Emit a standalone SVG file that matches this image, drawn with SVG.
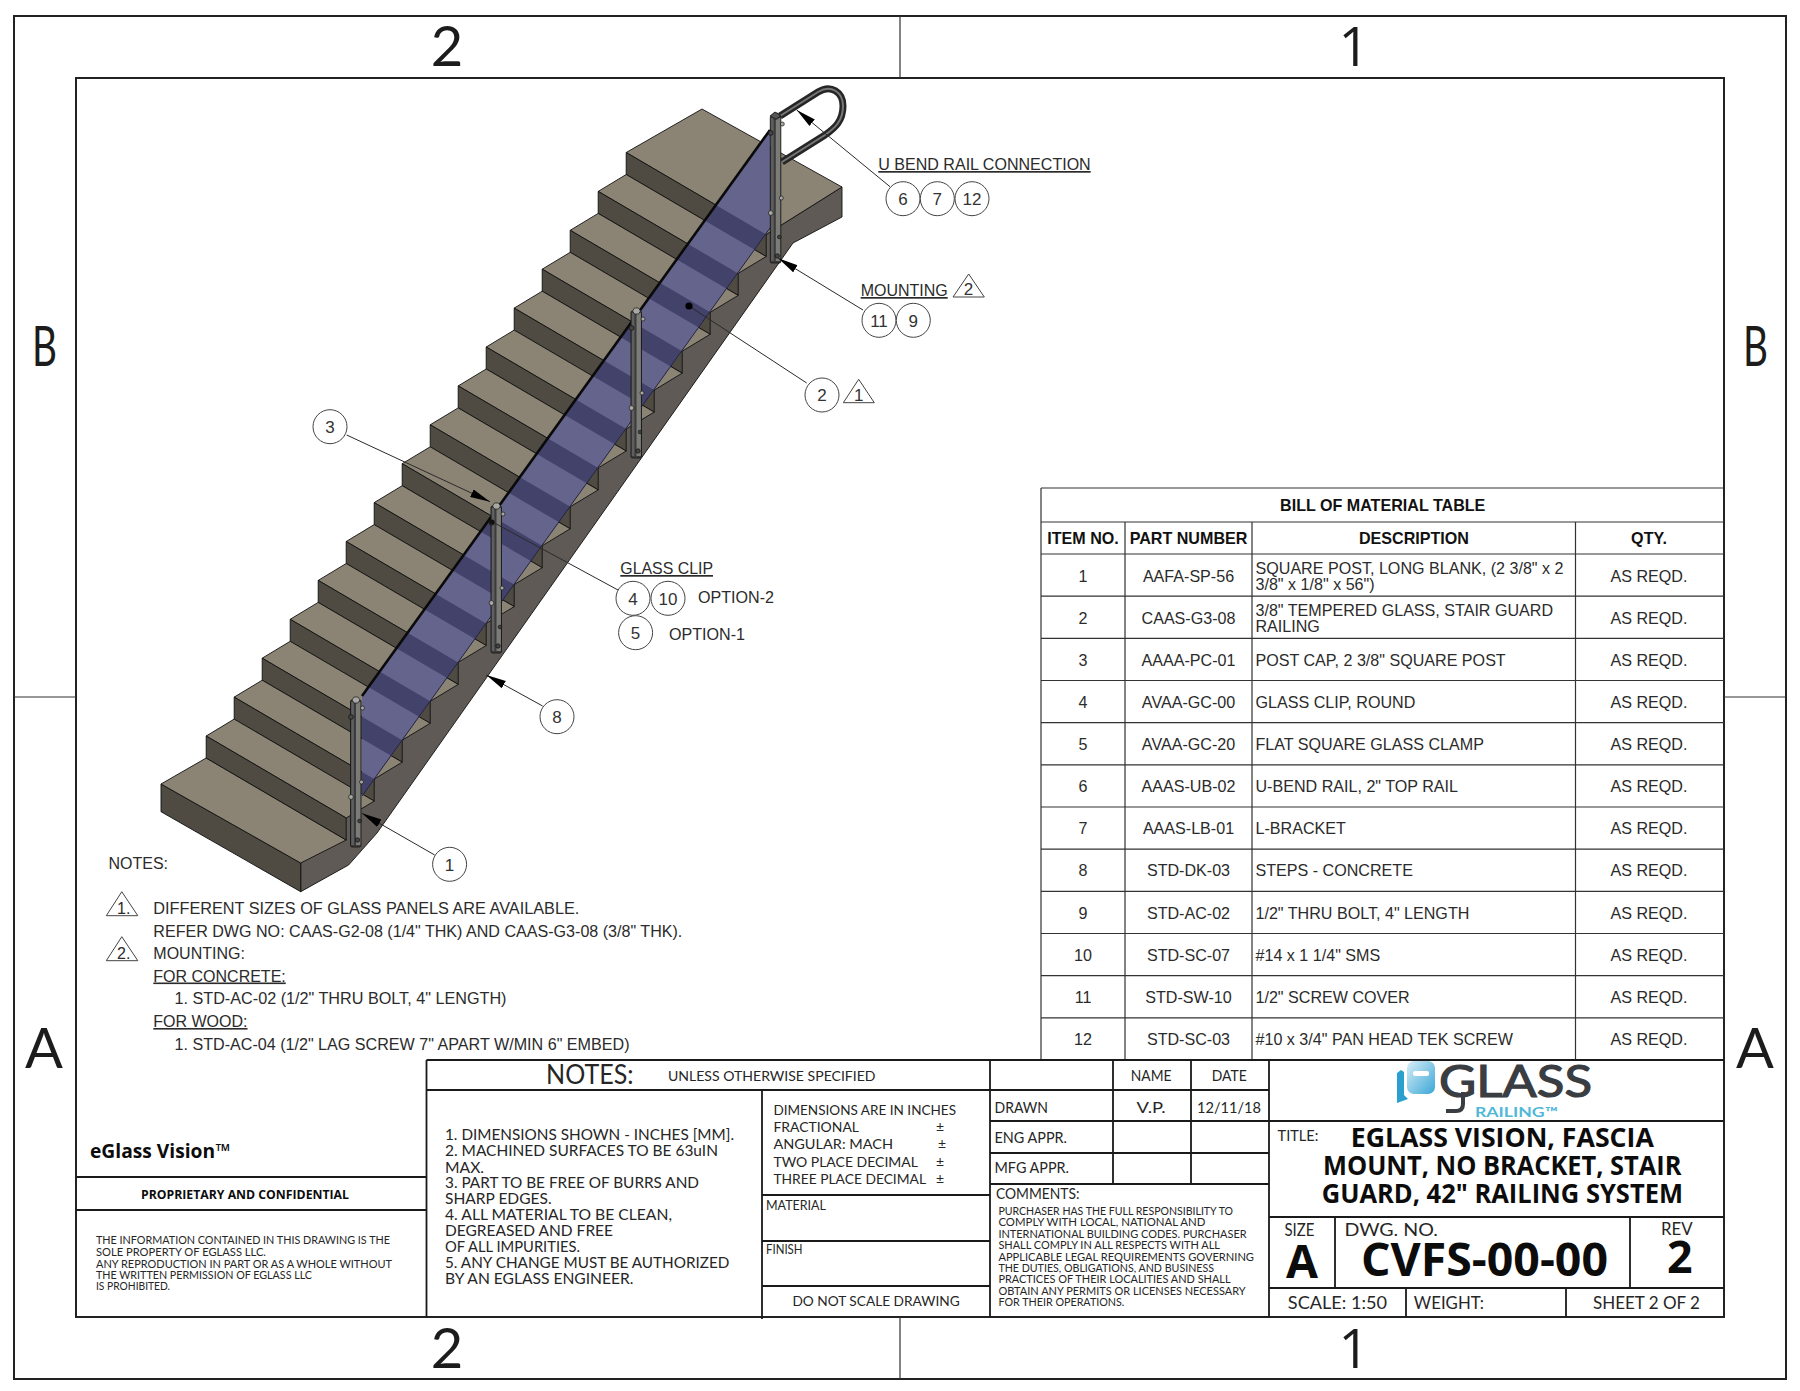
<svg xmlns="http://www.w3.org/2000/svg" width="1800" height="1391" viewBox="0 0 1800 1391">
<style>
.s{font-family:"Liberation Sans",Arial,sans-serif;font-size:16.1px;fill:#2b2b2b}
.d{font-size:16px}
.b{font-weight:700;fill:#111}
.m{text-anchor:middle}
.c{font-family:Lato,"Liberation Sans",sans-serif;fill:#262626}
.h{font-family:"Open Sans","Liberation Sans",sans-serif;font-weight:700;fill:#0c0c0c}
.f{font-family:Lato,"Liberation Sans",sans-serif;font-size:56px;fill:#1c1c1c;text-anchor:middle}
.f1{font-family:"Open Sans","Liberation Sans",sans-serif;font-size:54px;fill:#1c1c1c;text-anchor:middle}
.u{text-decoration:underline}
.n{font-family:"Liberation Sans",Arial,sans-serif;font-size:17px;fill:#333;text-anchor:middle}
.fr{fill:none;stroke:#222;stroke-width:2}
.tb{fill:none;stroke:#1a1a1a;stroke-width:1.8}
.tl{fill:none;stroke:#333;stroke-width:1.2}
.co{fill:#fff;stroke:#444;stroke-width:1}
.tri{fill:#fff;stroke:#444;stroke-width:1}
.ld{fill:none;stroke:#2a2a2a;stroke-width:1}
.tread{fill:#8b8475;stroke:#111;stroke-width:.9;stroke-linejoin:round}
.riser{fill:#4f4b43;stroke:#111;stroke-width:.9;stroke-linejoin:round}
.side{fill:#5f5a55;stroke:#111;stroke-width:.9;stroke-linejoin:round}
.clip{fill:#a8a8a4;stroke:#1a1a1a;stroke-width:.7}
.bolt{fill:#444;stroke:#111;stroke-width:.7}
</style>
<defs>
<marker id="arrow" markerUnits="userSpaceOnUse" markerWidth="21" markerHeight="10" refX="20" refY="4.5" orient="auto"><path d="M0,0.3 L20,4.5 L0,8.7 Z" fill="#000"/></marker>
<polygon id="rs" class="riser" points="0,0 140,82 140,104 0,22"/>
<polygon id="td" class="tread" points="0,0 140,82 168,65.1 28,-16.9"/>
<polygon id="band" fill="#43426b" points="0,0 140,82 140,104 0,22"/>
<clipPath id="glass-clip"><polygon points="770,130 770,228 362,796 362,696"/></clipPath>
<g id="post">
<rect x="0" y="3" width="10.5" height="147" rx="1.5" fill="#3c3c3c" stroke="#1a1a1a" stroke-width=".9"/>
<rect x="0.8" y="5" width="2.6" height="143" fill="#5f5f5f"/>
<rect x="5.5" y="5" width="4.4" height="143" fill="#7b7b78"/>
<polygon points="1.5,3 3.5,0 7.5,0 9.5,3 7.5,6 3.5,6" class="clip"/>
<circle cx="12" cy="11" r="2" class="clip"/>
<circle cx="0.5" cy="20" r="2.4" class="bolt"/>
<circle cx="11" cy="85" r="2" class="clip"/>
<circle cx="0.5" cy="100" r="2.4" class="clip"/>
<circle cx="9" cy="124" r="1.8" class="bolt"/>
<circle cx="7" cy="143" r="2.2" class="bolt"/>
</g>
<linearGradient id="lg" x1="0" y1="0" x2="1" y2="1"><stop offset="0" stop-color="#d8eef7"/><stop offset="1" stop-color="#3aa7d6"/></linearGradient>
</defs>
<rect width="1800" height="1391" fill="#fff"/>

<g id="sheet-frame">
<rect class="fr" x="14" y="16" width="1772" height="1363"/>
<rect class="fr" x="76" y="78" width="1648" height="1239"/>
<path d="M900,16V78M900,1317V1379M14,697H76M1724,697H1786" fill="none" stroke="#333" stroke-width="1.2"/>
<text class="f" x="447" y="66">2</text><text class="f1" x="1354" y="66">1</text>
<text class="f" x="447" y="1368">2</text><text class="f1" x="1354" y="1368">1</text>
<text class="f" x="32" y="366" style="text-anchor:start" textLength="25" lengthAdjust="spacingAndGlyphs">B</text><text class="f" x="1743" y="366" style="text-anchor:start" textLength="25" lengthAdjust="spacingAndGlyphs">B</text>
<text class="f" x="44" y="1068">A</text><text class="f" x="1755" y="1068">A</text>
</g>

<g id="stair">
<polygon class="side" points="300.7,891.7 348.6,865 377,833 793,243 842,217 842,187 766.2,234.5 346.2,818 300.7,863"/>
<polygon class="side" points="161,784 300.7,863 300.7,891.7 161,811.7" style="fill:#4f4b43"/>
<polygon class="tread" points="161,784 206.2,758 346.2,840 300.7,863"/>
<polygon class="tread" points="626.2,152.5 702,109 842,187 766.2,234.5"/>
<use href="#rs" x="626.2" y="152.5"/>
<use href="#td" x="598.2" y="191.4"/><use href="#rs" x="598.2" y="191.4"/>
<use href="#td" x="570.2" y="230.3"/><use href="#rs" x="570.2" y="230.3"/>
<use href="#td" x="542.2" y="269.2"/><use href="#rs" x="542.2" y="269.2"/>
<use href="#td" x="514.2" y="308.1"/><use href="#rs" x="514.2" y="308.1"/>
<use href="#td" x="486.2" y="347"/><use href="#rs" x="486.2" y="347"/>
<use href="#td" x="458.2" y="385.9"/><use href="#rs" x="458.2" y="385.9"/>
<use href="#td" x="430.2" y="424.8"/><use href="#rs" x="430.2" y="424.8"/>
<use href="#td" x="402.2" y="463.7"/><use href="#rs" x="402.2" y="463.7"/>
<use href="#td" x="374.2" y="502.6"/><use href="#rs" x="374.2" y="502.6"/>
<use href="#td" x="346.2" y="541.5"/><use href="#rs" x="346.2" y="541.5"/>
<use href="#td" x="318.2" y="580.4"/><use href="#rs" x="318.2" y="580.4"/>
<use href="#td" x="290.2" y="619.3"/><use href="#rs" x="290.2" y="619.3"/>
<use href="#td" x="262.2" y="658.2"/><use href="#rs" x="262.2" y="658.2"/>
<use href="#td" x="234.2" y="697.1"/><use href="#rs" x="234.2" y="697.1"/>
<use href="#td" x="206.2" y="736"/><use href="#rs" x="206.2" y="736"/>
</g>

<g id="glass-panel">
<polygon points="770,130 770,228 362,796 362,696" fill="#65648c"/>
<g clip-path="url(#glass-clip)">
<use href="#band" x="626.2" y="152.5"/><use href="#band" x="598.2" y="191.4"/><use href="#band" x="570.2" y="230.3"/><use href="#band" x="542.2" y="269.2"/><use href="#band" x="514.2" y="308.1"/><use href="#band" x="486.2" y="347"/><use href="#band" x="458.2" y="385.9"/><use href="#band" x="430.2" y="424.8"/><use href="#band" x="402.2" y="463.7"/><use href="#band" x="374.2" y="502.6"/><use href="#band" x="346.2" y="541.5"/><use href="#band" x="318.2" y="580.4"/><use href="#band" x="290.2" y="619.3"/><use href="#band" x="262.2" y="658.2"/><use href="#band" x="234.2" y="697.1"/>
</g>
<path d="M362,796 L770,228" fill="none" stroke="#23233f" stroke-width="1"/>
<path d="M362,696 L770,130" fill="none" stroke="#0a0a0a" stroke-width="2.6"/>
</g>

<g id="posts">
<path d="M780,116 L818,92 C831,84 843,92 843,106 C843,121 835,128 825,135 L782,162" fill="none" stroke="#262626" stroke-width="7"/>
<path d="M780,116 L818,92 C831,84 843,92 843,106 C843,121 835,128 825,135 L782,162" fill="none" stroke="#777" stroke-width="2"/>
<use href="#post" x="350.5" y="697"/>
<use href="#post" x="491" y="503"/>
<use href="#post" x="631" y="308"/>
<use href="#post" x="770.3" y="113"/>
<polygon points="770,116 775,112 781,116 776,119" fill="#555" stroke="#111" stroke-width=".8"/>
</g>

<g id="connectors">
<line class="ld" x1="890" y1="186.7" x2="796.7" y2="110" marker-end="url(#arrow)"/>
<line class="ld" x1="863" y1="310" x2="778.3" y2="258.3" marker-end="url(#arrow)"/>
<line class="ld" x1="806.7" y1="383" x2="689" y2="306"/>
<line class="ld" x1="346.7" y1="435" x2="490" y2="501.7" marker-end="url(#arrow)"/>
<line class="ld" x1="618" y1="590" x2="492" y2="521.7"/>
<line class="ld" x1="542.6" y1="706" x2="486.3" y2="675" marker-end="url(#arrow)"/>
<line class="ld" x1="434.7" y1="855" x2="362" y2="813.3" marker-end="url(#arrow)"/>
<circle cx="689" cy="306" r="3.6" fill="#000"/>
<circle cx="492" cy="522" r="2.6" fill="#111"/>
</g>

<g id="callout-u-bend">
<text class="s u" style="font-size:17px" x="878.3" y="170" textLength="212.4" lengthAdjust="spacingAndGlyphs">U BEND RAIL CONNECTION</text>
<circle class="co" cx="903" cy="198.7" r="17"/><text class="n" x="903" y="205">6</text>
<circle class="co" cx="937.3" cy="198.7" r="17"/><text class="n" x="937.3" y="205">7</text>
<circle class="co" cx="972" cy="198.7" r="17"/><text class="n" x="972" y="205">12</text>
</g>
<g id="callout-mounting">
<text class="s u" style="font-size:17px" x="860.7" y="296" textLength="87" lengthAdjust="spacingAndGlyphs">MOUNTING</text>
<polygon class="tri" points="953,297 968.7,274 984.3,297"/><text class="n" x="968.5" y="295">2</text>
<circle class="co" cx="879" cy="320.3" r="17"/><text class="n" x="879" y="326.5">11</text>
<circle class="co" cx="913.3" cy="320.3" r="17"/><text class="n" x="913.3" y="326.5">9</text>
</g>
<g id="callout-2">
<circle class="co" cx="822" cy="395" r="17"/><text class="n" x="822" y="401">2</text>
<polygon class="tri" points="843.3,402.7 858.7,379.3 874.3,402.7"/><text class="n" x="858.7" y="401">1</text>
</g>
<g id="callout-3"><circle class="co" cx="330" cy="426.7" r="17"/><text class="n" x="330" y="433">3</text></g>
<g id="callout-glass-clip">
<text class="s u" style="font-size:17px" x="620.3" y="574" textLength="92.7" lengthAdjust="spacingAndGlyphs">GLASS CLIP</text>
<circle class="co" cx="633" cy="598.3" r="17"/><text class="n" x="633" y="604.5">4</text>
<circle class="co" cx="668" cy="598.3" r="17"/><text class="n" x="668" y="604.5">10</text>
<text class="s" x="698" y="603">OPTION-2</text>
<circle class="co" cx="635.6" cy="632.7" r="17"/><text class="n" x="635.6" y="639">5</text>
<text class="s" x="669" y="639.5">OPTION-1</text>
</g>
<g id="callout-8"><circle class="co" cx="557" cy="716.7" r="17"/><text class="n" x="557" y="723">8</text></g>
<g id="callout-1"><circle class="co" cx="449.6" cy="864.3" r="17"/><text class="n" x="449.6" y="870.5">1</text></g>

<g id="drawing-notes">
<text class="s d" x="108.5" y="869">NOTES:</text>
<polygon class="tri" points="106.3,915.7 121.8,891.7 137.8,915.7"/><text class="s d" x="117" y="914">1.</text>
<polygon class="tri" points="106.3,960.7 121.8,936.7 137.8,960.7"/><text class="s d" x="117" y="959">2.</text>
<text class="s d" x="153.3" y="914" textLength="426" lengthAdjust="spacingAndGlyphs">DIFFERENT SIZES OF GLASS PANELS ARE AVAILABLE.</text>
<text class="s d" x="153.3" y="937" textLength="529" lengthAdjust="spacingAndGlyphs">REFER DWG NO: CAAS-G2-08 (1/4" THK) AND CAAS-G3-08 (3/8" THK).</text>
<text class="s d" x="153.3" y="959">MOUNTING:</text>
<text class="s d u" x="153.3" y="981.5">FOR CONCRETE:</text>
<text class="s d" x="174.5" y="1004" textLength="332" lengthAdjust="spacingAndGlyphs">1. STD-AC-02 (1/2" THRU BOLT, 4" LENGTH)</text>
<text class="s d u" x="153.3" y="1027">FOR WOOD:</text>
<text class="s d" x="174.5" y="1049.5" textLength="455" lengthAdjust="spacingAndGlyphs">1. STD-AC-04 (1/2" LAG SCREW 7" APART W/MIN 6" EMBED)</text>
</g>

<g id="bom-table" transform="translate(0,1)">
<path class="tl" d="M1041,487H1724M1041,521H1724M1041,553H1724M1041,595.2H1724M1041,637.3H1724M1041,679.5H1724M1041,721.7H1724M1041,763.8H1724M1041,806H1724M1041,848.2H1724M1041,890.3H1724M1041,932.5H1724M1041,974.7H1724M1041,1016.8H1724M1041,487V1059M1125,521V1059M1252,521V1059M1575.5,521V1059"/>
<text class="s b m" x="1382.7" y="510">BILL OF MATERIAL TABLE</text>
<text class="s b m" x="1083" y="543">ITEM NO.</text><text class="s b m" x="1188.5" y="543">PART NUMBER</text><text class="s b m" x="1414" y="543">DESCRIPTION</text><text class="s b m" x="1649" y="543">QTY.</text>
<text class="s m" x="1083" y="581">1</text><text class="s m" x="1188.5" y="581">AAFA-SP-56</text><text class="s" x="1255.5" y="572.5">SQUARE POST, LONG BLANK, (2 3/8" x 2</text><text class="s" x="1255.5" y="589">3/8" x 1/8" x 56")</text><text class="s m" x="1649" y="581">AS REQD.</text>
<text class="s m" x="1083" y="623">2</text><text class="s m" x="1188.5" y="623">CAAS-G3-08</text><text class="s" x="1255.5" y="615">3/8" TEMPERED GLASS, STAIR GUARD</text><text class="s" x="1255.5" y="631">RAILING</text><text class="s m" x="1649" y="623">AS REQD.</text>
<text class="s m" x="1083" y="665">3</text><text class="s m" x="1188.5" y="665">AAAA-PC-01</text><text class="s" x="1255.5" y="665">POST CAP, 2 3/8" SQUARE POST</text><text class="s m" x="1649" y="665">AS REQD.</text>
<text class="s m" x="1083" y="707">4</text><text class="s m" x="1188.5" y="707">AVAA-GC-00</text><text class="s" x="1255.5" y="707">GLASS CLIP, ROUND</text><text class="s m" x="1649" y="707">AS REQD.</text>
<text class="s m" x="1083" y="749">5</text><text class="s m" x="1188.5" y="749">AVAA-GC-20</text><text class="s" x="1255.5" y="749">FLAT SQUARE GLASS CLAMP</text><text class="s m" x="1649" y="749">AS REQD.</text>
<text class="s m" x="1083" y="791">6</text><text class="s m" x="1188.5" y="791">AAAS-UB-02</text><text class="s" x="1255.5" y="791">U-BEND RAIL, 2" TOP RAIL</text><text class="s m" x="1649" y="791">AS REQD.</text>
<text class="s m" x="1083" y="833">7</text><text class="s m" x="1188.5" y="833">AAAS-LB-01</text><text class="s" x="1255.5" y="833">L-BRACKET</text><text class="s m" x="1649" y="833">AS REQD.</text>
<text class="s m" x="1083" y="875">8</text><text class="s m" x="1188.5" y="875">STD-DK-03</text><text class="s" x="1255.5" y="875">STEPS - CONCRETE</text><text class="s m" x="1649" y="875">AS REQD.</text>
<text class="s m" x="1083" y="918">9</text><text class="s m" x="1188.5" y="918">STD-AC-02</text><text class="s" x="1255.5" y="918">1/2" THRU BOLT, 4" LENGTH</text><text class="s m" x="1649" y="918">AS REQD.</text>
<text class="s m" x="1083" y="960">10</text><text class="s m" x="1188.5" y="960">STD-SC-07</text><text class="s" x="1255.5" y="960">#14 x 1 1/4" SMS</text><text class="s m" x="1649" y="960">AS REQD.</text>
<text class="s m" x="1083" y="1002">11</text><text class="s m" x="1188.5" y="1002">STD-SW-10</text><text class="s" x="1255.5" y="1002">1/2" SCREW COVER</text><text class="s m" x="1649" y="1002">AS REQD.</text>
<text class="s m" x="1083" y="1044">12</text><text class="s m" x="1188.5" y="1044">STD-SC-03</text><text class="s" x="1255.5" y="1044">#10 x 3/4" PAN HEAD TEK SCREW</text><text class="s m" x="1649" y="1044">AS REQD.</text>
</g>

<g id="title-block-left" transform="translate(0,1)">
<path class="tb" d="M76,1176H426.5M76,1209H426.5M426.5,1059V1316M426.5,1059H1724M426.5,1089H1269M762,1089V1318M762,1194H990M762,1240H990M762,1285H990"/>
<text class="h" x="90" y="1157" font-size="20" textLength="140" lengthAdjust="spacingAndGlyphs">eGlass Vision™</text>
<text class="h" x="141" y="1198" font-size="13" textLength="208" lengthAdjust="spacingAndGlyphs">PROPRIETARY AND CONFIDENTIAL</text>
<text class="c" x="96" y="1243" font-size="10.5" textLength="294" lengthAdjust="spacingAndGlyphs">THE INFORMATION CONTAINED IN THIS DRAWING IS THE</text>
<text class="c" x="96" y="1255" font-size="10.5" textLength="170" lengthAdjust="spacingAndGlyphs">SOLE PROPERTY OF EGLASS LLC.</text>
<text class="c" x="96" y="1267" font-size="10.5" textLength="296" lengthAdjust="spacingAndGlyphs">ANY REPRODUCTION IN PART OR AS A WHOLE WITHOUT</text>
<text class="c" x="96" y="1278" font-size="10.5" textLength="216" lengthAdjust="spacingAndGlyphs">THE WRITTEN PERMISSION OF EGLASS LLC</text>
<text class="c" x="96" y="1289" font-size="10.5" textLength="74" lengthAdjust="spacingAndGlyphs">IS PROHIBITED.</text>
<text class="c" x="546" y="1083" font-size="26" textLength="87.5" lengthAdjust="spacingAndGlyphs">NOTES:</text>
<text class="c" x="668" y="1080" font-size="14" textLength="207.5" lengthAdjust="spacingAndGlyphs">UNLESS OTHERWISE SPECIFIED</text>
<text class="c" x="445" y="1139" font-size="15.5" textLength="289" lengthAdjust="spacingAndGlyphs">1. DIMENSIONS SHOWN - INCHES [MM].</text>
<text class="c" x="445" y="1155" font-size="15.5" textLength="273" lengthAdjust="spacingAndGlyphs">2. MACHINED SURFACES TO BE 63uIN</text>
<text class="c" x="445" y="1171.5" font-size="15.5" textLength="39" lengthAdjust="spacingAndGlyphs">MAX.</text>
<text class="c" x="445" y="1187" font-size="15.5" textLength="254" lengthAdjust="spacingAndGlyphs">3. PART TO BE FREE OF BURRS AND</text>
<text class="c" x="445" y="1203" font-size="15.5" textLength="106.6" lengthAdjust="spacingAndGlyphs">SHARP EDGES.</text>
<text class="c" x="445" y="1219" font-size="15.5" textLength="227" lengthAdjust="spacingAndGlyphs">4. ALL MATERIAL TO BE CLEAN,</text>
<text class="c" x="445" y="1235" font-size="15.5" textLength="168" lengthAdjust="spacingAndGlyphs">DEGREASED AND FREE</text>
<text class="c" x="445" y="1251" font-size="15.5" textLength="135" lengthAdjust="spacingAndGlyphs">OF ALL IMPURITIES.</text>
<text class="c" x="445" y="1267" font-size="15.5" textLength="284.5" lengthAdjust="spacingAndGlyphs">5. ANY CHANGE MUST BE AUTHORIZED</text>
<text class="c" x="445" y="1283" font-size="15.5" textLength="188.5" lengthAdjust="spacingAndGlyphs">BY AN EGLASS ENGINEER.</text>
<text class="c" x="773.4" y="1114" font-size="14" textLength="182.6" lengthAdjust="spacingAndGlyphs">DIMENSIONS ARE IN INCHES</text>
<text class="c" x="773.4" y="1131" font-size="14" textLength="85.6" lengthAdjust="spacingAndGlyphs">FRACTIONAL</text><text class="c" x="936" y="1131" font-size="14">±</text>
<text class="c" x="773.4" y="1148" font-size="14" textLength="119.6" lengthAdjust="spacingAndGlyphs">ANGULAR: MACH</text><text class="c" x="938" y="1148" font-size="14">±</text>
<text class="c" x="773.4" y="1166" font-size="14" textLength="144.6" lengthAdjust="spacingAndGlyphs">TWO PLACE DECIMAL</text><text class="c" x="936" y="1166" font-size="14">±</text>
<text class="c" x="773.4" y="1183" font-size="14" textLength="152.6" lengthAdjust="spacingAndGlyphs">THREE PLACE DECIMAL</text><text class="c" x="936" y="1183" font-size="14">±</text>
<text class="c" x="766" y="1209" font-size="12.5" textLength="60" lengthAdjust="spacingAndGlyphs">MATERIAL</text>
<text class="c" x="766" y="1253" font-size="12.5" textLength="36.5" lengthAdjust="spacingAndGlyphs">FINISH</text>
<text class="c" x="792.4" y="1305" font-size="14" textLength="167.3" lengthAdjust="spacingAndGlyphs">DO NOT SCALE DRAWING</text>
</g>

<g id="title-block-right" transform="translate(0,1)">
<path class="tb" d="M990,1059V1316M1113,1059V1183M1191,1059V1183M1269,1059V1316M990,1089H1269M990,1120H1724M990,1152H1269M990,1183H1269M1269,1216H1724M1269,1287H1724M1335,1216V1287M1630,1216V1287M1406,1287V1316M1566,1287V1316"/>
<text class="c" x="1130.8" y="1080" font-size="14.5" textLength="40.7" lengthAdjust="spacingAndGlyphs">NAME</text>
<text class="c" x="1211.7" y="1080" font-size="14.5" textLength="35" lengthAdjust="spacingAndGlyphs">DATE</text>
<text class="c" x="994.5" y="1112" font-size="14.5" textLength="53.5" lengthAdjust="spacingAndGlyphs">DRAWN</text>
<text class="c" x="1136.6" y="1112" font-size="14.5" textLength="29" lengthAdjust="spacingAndGlyphs">V.P.</text>
<text class="c" x="1197" y="1112" font-size="14.5" textLength="64" lengthAdjust="spacingAndGlyphs">12/11/18</text>
<text class="c" x="994.5" y="1142.3" font-size="14.5" textLength="72.5" lengthAdjust="spacingAndGlyphs">ENG APPR.</text>
<text class="c" x="994.5" y="1171.7" font-size="14.5" textLength="74.5" lengthAdjust="spacingAndGlyphs">MFG APPR.</text>
<text class="c" x="996" y="1198" font-size="15" textLength="83.4" lengthAdjust="spacingAndGlyphs">COMMENTS:</text>
<text class="c" x="998.4" y="1213.7" font-size="10.5" textLength="234.6" lengthAdjust="spacingAndGlyphs">PURCHASER HAS THE FULL RESPONSIBILITY TO</text>
<text class="c" x="998.4" y="1225.3" font-size="10.5" textLength="207" lengthAdjust="spacingAndGlyphs">COMPLY WITH LOCAL, NATIONAL AND</text>
<text class="c" x="998.4" y="1237" font-size="10.5" textLength="248.2" lengthAdjust="spacingAndGlyphs">INTERNATIONAL BUILDING CODES. PURCHASER</text>
<text class="c" x="998.4" y="1248.3" font-size="10.5" textLength="221.6" lengthAdjust="spacingAndGlyphs">SHALL COMPLY IN ALL RESPECTS WITH ALL</text>
<text class="c" x="998.4" y="1259.7" font-size="10.5" textLength="255.6" lengthAdjust="spacingAndGlyphs">APPLICABLE LEGAL REQUIREMENTS GOVERNING</text>
<text class="c" x="998.4" y="1271" font-size="10.5" textLength="215.6" lengthAdjust="spacingAndGlyphs">THE DUTIES, OBLIGATIONS, AND BUSINESS</text>
<text class="c" x="998.4" y="1282.3" font-size="10.5" textLength="232.2" lengthAdjust="spacingAndGlyphs">PRACTICES OF THEIR LOCALITIES AND SHALL</text>
<text class="c" x="998.4" y="1293.7" font-size="10.5" textLength="247.2" lengthAdjust="spacingAndGlyphs">OBTAIN ANY PERMITS OR LICENSES NECESSARY</text>
<text class="c" x="998.4" y="1305" font-size="10.5" textLength="126" lengthAdjust="spacingAndGlyphs">FOR THEIR OPERATIONS.</text>
<text class="c" x="1277.6" y="1140" font-size="15.5" textLength="40.7" lengthAdjust="spacingAndGlyphs">TITLE:</text>
<text class="h" x="1350.8" y="1146" font-size="27" textLength="303" lengthAdjust="spacingAndGlyphs">EGLASS VISION, FASCIA</text>
<text class="h" x="1323" y="1174" font-size="27" textLength="358.4" lengthAdjust="spacingAndGlyphs">MOUNT, NO BRACKET, STAIR</text>
<text class="h" x="1321.7" y="1202" font-size="27" textLength="361.3" lengthAdjust="spacingAndGlyphs">GUARD, 42" RAILING SYSTEM</text>
<text class="c" x="1284.4" y="1235" font-size="17" textLength="30" lengthAdjust="spacingAndGlyphs">SIZE</text>
<text class="h" x="1286" y="1276.5" font-size="46" textLength="32" lengthAdjust="spacingAndGlyphs">A</text>
<text class="c" x="1344.5" y="1235" font-size="17" textLength="93.5" lengthAdjust="spacingAndGlyphs">DWG.  NO.</text>
<text class="h" x="1361" y="1275" font-size="46" textLength="247" lengthAdjust="spacingAndGlyphs">CVFS-00-00</text>
<text class="c" x="1661" y="1234" font-size="17" textLength="31.6" lengthAdjust="spacingAndGlyphs">REV</text>
<text class="h" x="1667" y="1272" font-size="44" textLength="25.6" lengthAdjust="spacingAndGlyphs">2</text>
<text class="c" x="1287.8" y="1308" font-size="18" textLength="99.2" lengthAdjust="spacingAndGlyphs">SCALE: 1:50</text>
<text class="c" x="1413.8" y="1308" font-size="18" textLength="70.2" lengthAdjust="spacingAndGlyphs">WEIGHT:</text>
<text class="c" x="1593" y="1308" font-size="18" textLength="107" lengthAdjust="spacingAndGlyphs">SHEET 2 OF 2</text>
</g>

<g id="logo">
<path d="M1401,1070 L1397,1073 V1103 L1408,1099 L1404,1095 V1072 Z" fill="#2a9fd0"/>
<rect x="1407" y="1061" width="28" height="33" rx="7" fill="url(#lg)"/>
<rect x="1413" y="1071" width="16" height="5" rx="2" fill="#fff"/>
<text x="1439" y="1097" font-family="Lato,'Liberation Sans',sans-serif" font-size="44" fill="#3a3d42" stroke="#3a3d42" stroke-width="1.2" textLength="153" lengthAdjust="spacingAndGlyphs">GLASS</text>
<path d="M1463,1092 V1104 Q1463,1111 1456,1111 H1446" fill="none" stroke="#3a3d42" stroke-width="4"/>
<text x="1475" y="1117" font-family="Lato,'Liberation Sans',sans-serif" font-size="13.5" font-weight="700" fill="#4fb8d8" textLength="83" lengthAdjust="spacingAndGlyphs">RAILING™</text>
</g>
</svg>
